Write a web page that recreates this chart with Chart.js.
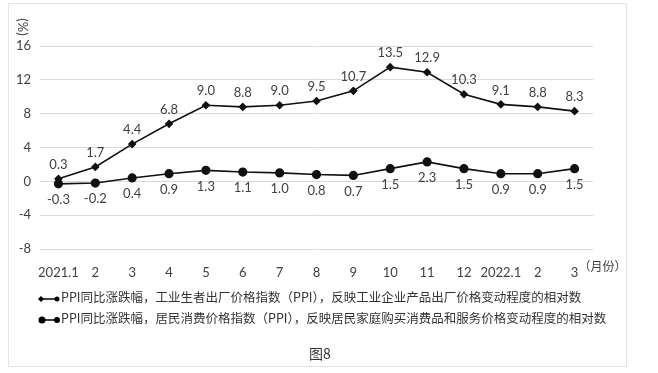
<!DOCTYPE html>
<html lang="zh">
<head>
  <meta charset="UTF-8" />
  <title>图8 PPI与CPI同比涨跌幅</title>
  <script src="https://cdn.jsdelivr.net/npm/chart.js"></script>
  <style>
    body { margin: 0; background: #fff; }
    .wrap { position: relative; width: 658px; height: 373px; }
    .frame { position: absolute; left: 8px; top: 3px; width: 617px; height: 362px; border: 1px solid #e3e3e3; }
    canvas { position: absolute; left: 0; top: 0; }
    .legend { position: absolute; left: 38px; top: 288px; font-family: "Noto Sans CJK SC", sans-serif; font-size: 12.5px; color: #333; }
    .legend div { height: 21px; line-height: 18px; white-space: nowrap; }
    .legend svg { vertical-align: middle; margin-right: 1px; }
    .caption { position: absolute; left: 0; width: 640px; top: 343px; text-align: center; font-family: "Noto Sans CJK SC", sans-serif; font-size: 14px; color: #333; }
  </style>
</head>
<body>
  <div class="wrap">
    <div class="frame"></div>
    <canvas id="ppiChart" width="658" height="373"></canvas>
    <!-- legend below the plot -->
    <div class="legend">
      <div><svg width="22" height="10"><line x1="3" y1="5" x2="19" y2="5" stroke="#000" stroke-width="1.5"/><polygon points="3,2 6,5 3,8 0,5" fill="#000"/><circle cx="19" cy="5" r="2.5" fill="#000"/></svg>PPI同比涨跌幅，工业生者出厂价格指数（PPI），反映工业企业产品出厂价格变动程度的相对数</div>
      <div><svg width="22" height="10"><line x1="3" y1="5" x2="19" y2="5" stroke="#000" stroke-width="1.5"/><circle cx="4" cy="5" r="3.5" fill="#000"/><circle cx="19" cy="5" r="3" fill="#000"/></svg>PPI同比涨跌幅，居民消费价格指数（PPI），反映居民家庭购买消费品和服务价格变动程度的相对数</div>
    </div>
    <div class="caption">图8</div>
  </div>

  <script>
    const months = ['2021.1', '2', '3', '4', '5', '6', '7', '8', '9', '10', '11', '12', '2022.1', '2', '3'];
    const ppiValues = [0.3, 1.7, 4.4, 6.8, 9.0, 8.8, 9.0, 9.5, 10.7, 13.5, 12.9, 10.3, 9.1, 8.8, 8.3];
    const cpiValues = [-0.3, -0.2, 0.4, 0.9, 1.3, 1.1, 1.0, 0.8, 0.7, 1.5, 2.3, 1.5, 0.9, 0.9, 1.5];
    const yTicks = [-8, -4, 0, 4, 8, 12, 16];
    const unitLabel = '(%)';
    const monthUnit = '（月份）';

    const numFont = '13px Lato, "Liberation Sans", sans-serif';

    // value labels: first series above the points, second series below
    const valueLabels = {
      id: 'valueLabels',
      afterDatasetsDraw(chart) {
        const ctx = chart.ctx;
        ctx.save();
        ctx.font = numFont;
        ctx.fillStyle = '#404040';
        ctx.textAlign = 'center';
        ctx.textBaseline = 'middle';
        chart.data.datasets.forEach((ds, di) => {
          const meta = chart.getDatasetMeta(di);
          meta.data.forEach((pt, i) => {
            const off = di === 0 ? -14 : 16;
            ctx.fillText(ds.data[i].toFixed(1), pt.x, pt.y + off);
          });
        });
        ctx.restore();
      }
    };

    // "(%)" at top left, turned, and "(月份)" after the last month
    const axisUnits = {
      id: 'axisUnits',
      afterDraw(chart) {
        const ctx = chart.ctx;
        const x = chart.scales.x;
        ctx.save();
        ctx.fillStyle = '#404040';
        ctx.font = '12px "Noto Sans CJK SC", sans-serif';
        ctx.textBaseline = 'middle';
        ctx.textAlign = 'left';
        const lastX = x.getPixelForValue(months.length - 1);
        ctx.fillText(monthUnit, lastX + 4, 266);
        ctx.restore();

        ctx.save();
        ctx.fillStyle = '#404040';
        ctx.font = '13px Lato, "Liberation Sans", sans-serif';
        ctx.textAlign = 'center';
        ctx.textBaseline = 'middle';
        ctx.translate(22, 27);
        ctx.rotate(Math.PI / 2);
        ctx.fillText(unitLabel, 0, 0);
        ctx.restore();
      }
    };

    const ctx = document.getElementById('ppiChart').getContext('2d');
    new Chart(ctx, {
      type: 'line',
      data: {
        labels: months,
        datasets: [{
          label: 'PPI',
          data: ppiValues,
          borderColor: '#111',
          backgroundColor: '#111',
          borderWidth: 1.6,
          pointStyle: 'rectRot',
          pointRadius: 3.2,
          tension: 0
        }, {
          label: 'CPI',
          data: cpiValues,
          borderColor: '#111',
          backgroundColor: '#111',
          borderWidth: 1.6,
          pointStyle: 'circle',
          pointRadius: 3.8,
          tension: 0
        }]
      },
      options: {
        responsive: false,
        animation: false,
        layout: { padding: { left: 0, right: 65, top: 46, bottom: 0 } },
        plugins: { legend: { display: false }, tooltip: { enabled: false } },
        scales: {
          x: {
            offset: true,
            grid: { display: false },
            border: { display: false },
            ticks: { color: '#404040', font: { family: 'Lato, "Liberation Sans", sans-serif', size: 13 }, padding: 8, maxRotation: 0, autoSkip: false },
            afterFit(scale) { scale.height = 124; }
          },
          y: {
            min: -8,
            max: 16,
            afterBuildTicks(scale) { scale.ticks = yTicks.map(v => ({ value: v })); },
            grid: { color: '#d9d9d9', drawTicks: false },
            border: { display: false },
            ticks: { color: '#404040', font: { family: 'Lato, "Liberation Sans", sans-serif', size: 13 }, padding: 9 },
            afterFit(scale) { scale.width = 40; }
          }
        }
      },
      plugins: [valueLabels, axisUnits]
    });
  </script>
</body>
</html>
